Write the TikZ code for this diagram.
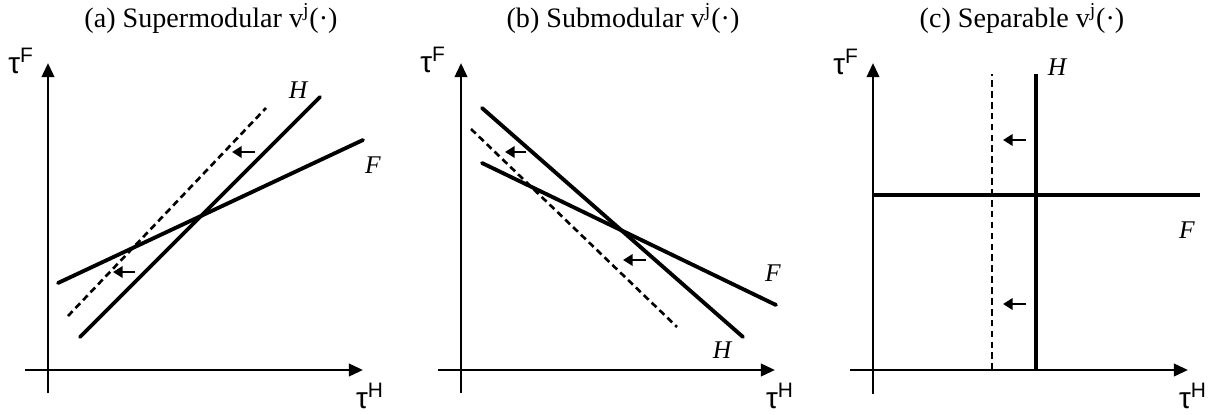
\documentclass[tikz,border=0pt]{standalone}
\usepackage{fontspec}
\setmainfont{Liberation Serif}
\setsansfont{Liberation Sans}
\usetikzlibrary{arrows.meta}

\begin{document}
\begin{tikzpicture}[x=0.02cm,y=-0.02cm,
    axis/.style={line width=1.6pt,-{Triangle[length=8pt,width=7pt]}},
    curve/.style={line width=2.2pt,line cap=round},
    shifted/.style={line width=1.5pt,dash pattern=on 3.8pt off 2.4pt},
    move/.style={line width=1.7pt,-{Triangle[length=5.5pt,width=6.5pt]}},
    axlabel/.style={font=\sffamily\fontsize{17}{17}\selectfont,inner sep=0pt},
    crvlabel/.style={font=\itshape\fontsize{14.5}{14.5}\selectfont,inner sep=0pt},
    title/.style={font=\fontsize{16}{17}\selectfont,inner sep=0pt}]
  \useasboundingbox (0,0) rectangle (1222,415);

  % (a) supermodular
  \node[title] (ta) at (211,18) {(a) Supermodular v\textsuperscript{j}(·)};
  \draw[axis] (25,370) -- (363,370);
  \draw[axis] (48,393) -- (48,63);
  \node[axlabel] (ya) at (21,61) {τ\textsuperscript{F}};
  \node[axlabel] (xa) at (370,396) {τ\textsuperscript{H}};
  \coordinate (ha1) at (80,337);  \coordinate (ha2) at (320,97);
  \coordinate (fa1) at (58,283);  \coordinate (fa2) at (363,140);
  \coordinate (da1) at (68,316);  \coordinate (da2) at (266,108);
  \draw[curve] (ha1) -- (ha2);
  \draw[curve] (fa1) -- (fa2);
  \draw[shifted] (da1) -- (da2);
  \node[crvlabel] (lha) at (298,90) {H};
  \node[crvlabel] (lfa) at (373,165) {F};
  \draw[move] (255,152) -- (232,152);
  \draw[move] (135,272) -- (113,272);

  % (b) submodular
  \node[title] (tb) at (623,18) {(b) Submodular v\textsuperscript{j}(·)};
  \draw[axis] (438,370) -- (775,370);
  \draw[axis] (461,393) -- (461,63);
  \node[axlabel] (yb) at (433,60) {τ\textsuperscript{F}};
  \node[axlabel] (xb) at (780,396) {τ\textsuperscript{H}};
  \coordinate (hb1) at (482,108); \coordinate (hb2) at (743,337);
  \coordinate (fb1) at (482,163); \coordinate (fb2) at (776,305);
  \coordinate (db1) at (471,129); \coordinate (db2) at (677,327);
  \draw[curve] (hb1) -- (hb2);
  \draw[curve] (fb1) -- (fb2);
  \draw[shifted] (db1) -- (db2);
  \node[crvlabel] (lhb) at (722,350) {H};
  \node[crvlabel] (lfb) at (773,273) {F};
  \draw[move] (526,152) -- (505,152);
  \draw[move] (646,260) -- (623,260);

  % (c) separable
  \node[title] (tc) at (1022,18) {(c) Separable v\textsuperscript{j}(·)};
  \draw[axis] (850,370) -- (1188,370);
  \draw[axis] (873,394) -- (873,63);
  \node[axlabel] (yc) at (846,62) {τ\textsuperscript{F}};
  \node[axlabel] (xc) at (1193,396) {τ\textsuperscript{H}};
  \coordinate (hc1) at (1036,370); \coordinate (hc2) at (1036,74);
  \coordinate (fc1) at (873,195);  \coordinate (fc2) at (1200,195);
  \coordinate (dc1) at (992,370);  \coordinate (dc2) at (992,74);
  \draw[curve,line cap=butt] (hc1) -- (hc2);
  \draw[curve,line cap=butt] (fc1) -- (fc2);
  \draw[shifted] (dc1) -- (dc2);
  \node[crvlabel] (lhc) at (1057,67) {H};
  \node[crvlabel] (lfc) at (1187,230) {F};
  \draw[move] (1026,140) -- (1003,140);
  \draw[move] (1026,304) -- (1003,304);
\end{tikzpicture}
\end{document}
